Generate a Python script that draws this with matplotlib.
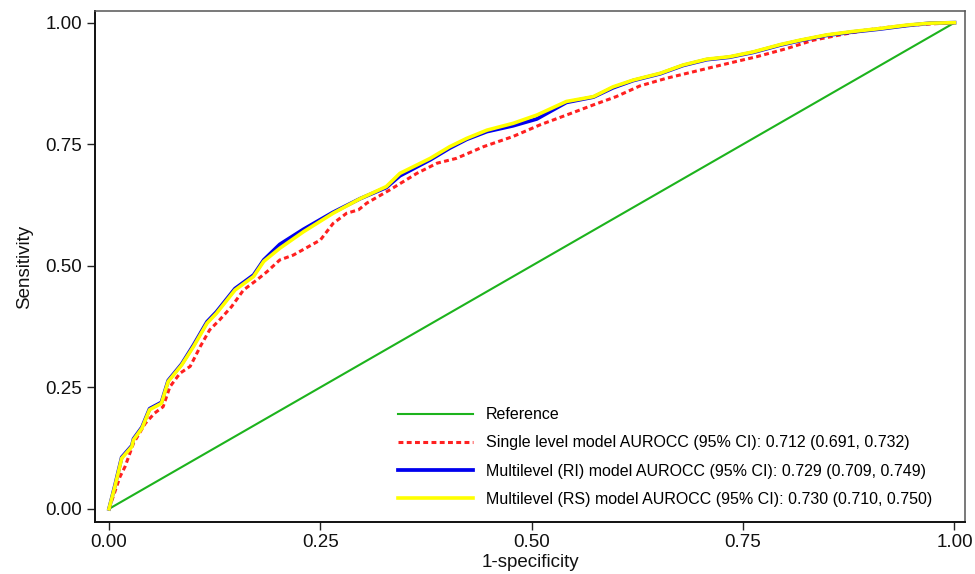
# ROC curves: single level vs multilevel (RI / RS) models
import matplotlib
matplotlib.use("Agg")
import matplotlib.pyplot as plt

plt.rcParams["font.family"] = ["Liberation Sans", "DejaVu Sans"]

# Reference diagonal
ref_x = [0.0, 1.0]
ref_y = [0.0, 1.0]

# Single level model
single_x = [0.000, 0.013, 0.019, 0.029, 0.043, 0.054, 0.064, 0.072, 0.084, 0.096,
            0.108, 0.119, 0.131, 0.145, 0.159, 0.175, 0.187, 0.202, 0.218, 0.250,
            0.265, 0.281, 0.295, 0.305, 0.332, 0.364, 0.388, 0.411, 0.443, 0.478,
            0.510, 0.541, 0.573, 0.600, 0.628, 0.660, 0.691, 0.734, 0.766, 0.802,
            0.833, 0.865, 0.896, 0.928, 0.967, 1.000]
single_y = [0.000, 0.066, 0.087, 0.135, 0.176, 0.197, 0.210, 0.251, 0.279, 0.293,
            0.334, 0.368, 0.389, 0.416, 0.450, 0.471, 0.488, 0.512, 0.522, 0.553,
            0.587, 0.608, 0.615, 0.629, 0.656, 0.690, 0.711, 0.721, 0.745, 0.766,
            0.790, 0.810, 0.831, 0.848, 0.870, 0.886, 0.899, 0.917, 0.930, 0.947,
            0.964, 0.975, 0.985, 0.992, 0.997, 1.000]

# Multilevel models share the same false-positive grid
ml_x = [0.000, 0.007, 0.015, 0.027, 0.029, 0.039, 0.048, 0.062, 0.070, 0.086,
        0.100, 0.116, 0.127, 0.149, 0.171, 0.183, 0.202, 0.230, 0.265, 0.297,
        0.328, 0.344, 0.380, 0.403, 0.423, 0.447, 0.478, 0.506, 0.541, 0.573,
        0.596, 0.620, 0.652, 0.679, 0.707, 0.734, 0.762, 0.794, 0.817, 0.849,
        0.880, 0.912, 0.943, 0.971, 1.000]

# Multilevel random intercept model
ri_y = [0.000, 0.048, 0.106, 0.130, 0.144, 0.168, 0.206, 0.219, 0.264, 0.298,
        0.337, 0.385, 0.405, 0.453, 0.481, 0.512, 0.544, 0.575, 0.610, 0.638,
        0.661, 0.685, 0.718, 0.742, 0.760, 0.776, 0.788, 0.802, 0.836, 0.847,
        0.866, 0.881, 0.895, 0.912, 0.924, 0.929, 0.939, 0.954, 0.963, 0.974,
        0.981, 0.987, 0.994, 0.999, 1.000]

# Multilevel random slope model
rs_y = [0.000, 0.046, 0.104, 0.128, 0.142, 0.166, 0.204, 0.217, 0.262, 0.296,
        0.334, 0.382, 0.402, 0.450, 0.478, 0.509, 0.536, 0.570, 0.608, 0.638,
        0.663, 0.690, 0.721, 0.745, 0.762, 0.779, 0.793, 0.810, 0.838, 0.848,
        0.868, 0.882, 0.896, 0.913, 0.925, 0.930, 0.940, 0.955, 0.964, 0.975,
        0.982, 0.988, 0.995, 0.999, 1.000]

labels = ["Reference",
          "Single level model AUROCC (95% CI): 0.712 (0.691, 0.732)",
          "Multilevel (RI) model AUROCC (95% CI): 0.729 (0.709, 0.749)",
          "Multilevel (RS) model AUROCC (95% CI): 0.730 (0.710, 0.750)"]

ticks = [0.0, 0.25, 0.5, 0.75, 1.0]
tick_labels = ["0.00", "0.25", "0.50", "0.75", "1.00"]

fig = plt.figure(figsize=(9.75, 5.74), dpi=100)
ax = fig.add_axes([0.0974, 0.0906, 0.8923, 0.8902])

ax.plot(ref_x, ref_y, color="#1db31d", linewidth=1.5, label=labels[0])
ax.plot(single_x, single_y, color="#ff2020", linewidth=2.2, dashes=(1.6, 1.1), label=labels[1])
ax.plot(ml_x, ri_y, color="#0000ee", linewidth=2.7, label=labels[2])
ax.plot(ml_x, rs_y, color="#ffff00", linewidth=2.6, label=labels[3])

ax.set_xlim(-0.0166, 1.0124)
ax.set_ylim(-0.027, 1.024)
ax.set_xticks(ticks)
ax.set_xticklabels(tick_labels)
ax.set_yticks(ticks)
ax.set_yticklabels(tick_labels)
ax.tick_params(axis="both", direction="out", length=6, width=1.0, colors="#222222",
               labelsize=13.5, pad=3)
ax.tick_params(axis="both", labelcolor="#111111")

for side in ["left", "bottom"]:
    ax.spines[side].set_color("#111111")
    ax.spines[side].set_linewidth(1.4)
for side in ["top", "right"]:
    ax.spines[side].set_color("#555555")
    ax.spines[side].set_linewidth(1.1)

ax.set_xlabel("1-specificity", fontsize=13.5, labelpad=2, color="#111111")
ax.set_ylabel("Sensitivity", fontsize=13.5, labelpad=9, color="#111111")

ax.legend(loc="lower left", bbox_to_anchor=(0.348, 0.03), frameon=False,
          fontsize=11.5, handlelength=4.7, handletextpad=0.8, labelspacing=0.82,
          borderpad=0, borderaxespad=0)

fig.savefig("out.png", dpi=100)
